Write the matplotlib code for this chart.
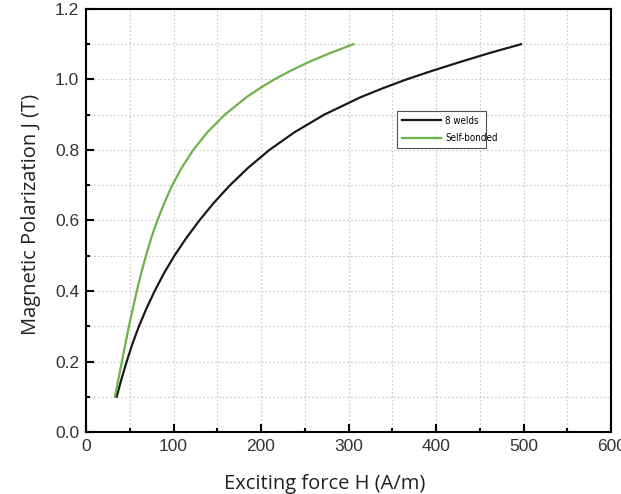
import matplotlib.pyplot as plt
import numpy as np
from matplotlib.ticker import MultipleLocator

# magnetisation curves J(H)
J = [0.1, 0.15, 0.2, 0.25, 0.3, 0.35, 0.4, 0.45, 0.5, 0.55, 0.6,
     0.65, 0.7, 0.75, 0.8, 0.85, 0.9, 0.95, 0.975, 1.0, 1.025, 1.05, 1.075, 1.1]
H_welds = [35, 40.5, 46.5, 53, 60.5, 69, 78.5, 89, 101, 114.5, 129.5,
           146, 164.5, 185.5, 209.5, 238, 272, 314, 339, 366, 396, 428, 461, 497]
H_bonded = [33, 37, 41, 45, 49, 53.5, 58, 63, 68.5, 74.5, 81.5,
            89.5, 98.5, 109.5, 122.5, 138.5, 158.5, 183.5, 198.5, 215, 234, 255, 279, 305.5]

fig = plt.figure(figsize=(6.21, 4.94), dpi=100)
ax = fig.add_axes([0.1385, 0.1255, 0.8455, 0.8563])

ax.plot(H_welds, J, color='#1a1a1a', linewidth=1.6, label='8 welds')
ax.plot(H_bonded, J, color='#6cb34a', linewidth=1.6, label='Self-bonded')

ax.set_xlim(0, 600)
ax.set_ylim(0, 1.2)
ax.xaxis.set_major_locator(MultipleLocator(100))
ax.xaxis.set_minor_locator(MultipleLocator(50))
ax.yaxis.set_major_locator(MultipleLocator(0.2))
ax.yaxis.set_minor_locator(MultipleLocator(0.1))
ax.yaxis.set_major_formatter(plt.FuncFormatter(lambda v, p: '%.1f' % v))

ax.grid(which='both', color='#c8c8c8', linestyle=(0, (1.5, 2)), linewidth=0.8)
ax.set_axisbelow(True)

for s in ax.spines.values():
    s.set_linewidth(1.5)
ax.tick_params(which='both', direction='in', width=1.5, labelsize=12.5, pad=5)
ax.tick_params(which='major', length=6)
ax.tick_params(which='minor', length=3)
for lab in ax.get_xticklabels() + ax.get_yticklabels():
    lab.set_family('Liberation Sans')
    lab.set_color('#333333')

ax.set_xlabel('Exciting force H (A/m)', fontsize=14.5, family='Open Sans', color='#222222')
ax.set_ylabel('Magnetic Polarization J (T)', fontsize=14.5, family='Open Sans', color='#222222')
ax.xaxis.set_label_coords(0.455, -0.1)
ax.yaxis.set_label_coords(-0.085, 0.515)

leg = ax.legend(loc='lower left', bbox_to_anchor=(0.592, 0.671, 0.17, 0.097), mode='expand',
                prop={'family': 'DejaVu Sans', 'stretch': 'condensed', 'size': 7},
                frameon=True, fancybox=False, handlelength=4, borderpad=0.5,
                labelspacing=0.8, handletextpad=0.5, borderaxespad=0)
leg.get_frame().set_edgecolor('#222222')
leg.get_frame().set_linewidth(0.8)

fig.savefig('out.png', dpi=100)
